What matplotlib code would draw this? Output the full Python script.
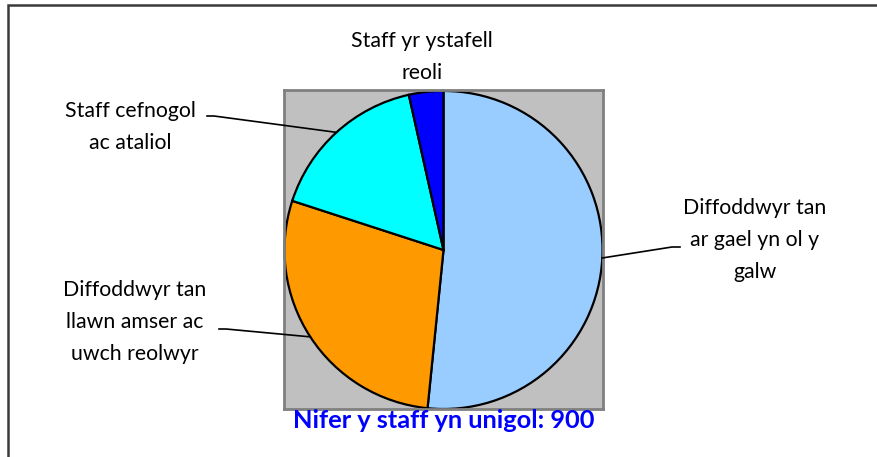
import numpy as np
import matplotlib.pyplot as plt
from matplotlib.patches import Rectangle
from matplotlib.lines import Line2D

plt.rcParams['font.family'] = ['Lato', 'DejaVu Sans']

labels = ['Diffoddwyr tan\nar gael yn ol y\ngalw',
          'Diffoddwyr tan\nllawn amser ac\nuwch reolwyr',
          'Staff cefnogol\nac ataliol',
          'Staff yr ystafell\nreoli']
shares = [51.6, 28.4, 16.5, 3.5]
colors = ['#99CCFF', '#FF9900', '#00FFFF', '#0000FF']
title = 'Nifer y staff yn unigol: 900'

W, H = 877, 457
fig = plt.figure(figsize=(W / 100, H / 100), dpi=100)


def fx(x):
    return x / W


def fy(y):
    return 1 - y / H


# outer chart frame (only top and left visible in the crop)
fig.add_artist(Rectangle((fx(8), fy(470)), fx(900), 465 / H, transform=fig.transFigure,
                         fill=False, edgecolor='#3a3a3a', linewidth=1.8))

# plot area
ax = fig.add_axes([fx(284), fy(409), 319 / W, 319 / H])

wedges, _ = ax.pie(shares, colors=colors, startangle=90, counterclock=False, radius=1,
                   wedgeprops=dict(edgecolor='black', linewidth=1.6))
ax.set_frame_on(True)
ax.set_facecolor('#C0C0C0')
for sp in ax.spines.values():
    sp.set_visible(True)
    sp.set_edgecolor('#808080')
    sp.set_linewidth(2)
ax.set_xticks([])
ax.set_yticks([])
ax.set_xlim(-1.003, 1.003)
ax.set_ylim(-1.0, 1.006)
ax.set_aspect('equal')

# label text centres (pixels, top origin) and leader start points
text_pos = [(755, 240), (135, 322), (130, 127), (422, 57)]
leader = [((680, 247), (672, 247)), ((219, 329), (226, 329)), ((207, 116), (214, 116)), None]

for w, lab, (tx, ty), ld in zip(wedges, labels, text_pos, leader):
    fig.text(fx(tx), fy(ty), lab, ha='center', va='center', fontsize=15.3,
             linespacing=1.72, color='black')
    if ld is None:
        continue
    mid = np.deg2rad((w.theta1 + w.theta2) / 2)
    ex, ey = ax.transData.transform((np.cos(mid), np.sin(mid)))
    (x0, y0), (x1, y1) = ld
    xs = [fx(x0), fx(x1), ex / W]
    ys = [fy(y0), fy(y1), ey / H]
    fig.add_artist(Line2D(xs, ys, transform=fig.transFigure, color='black', linewidth=1.2))

fig.text(fx(444), fy(420), title, ha='center', va='center', fontsize=18.3,
         fontweight='bold', color='#0000FF')

fig.savefig('out.png', dpi=100)
